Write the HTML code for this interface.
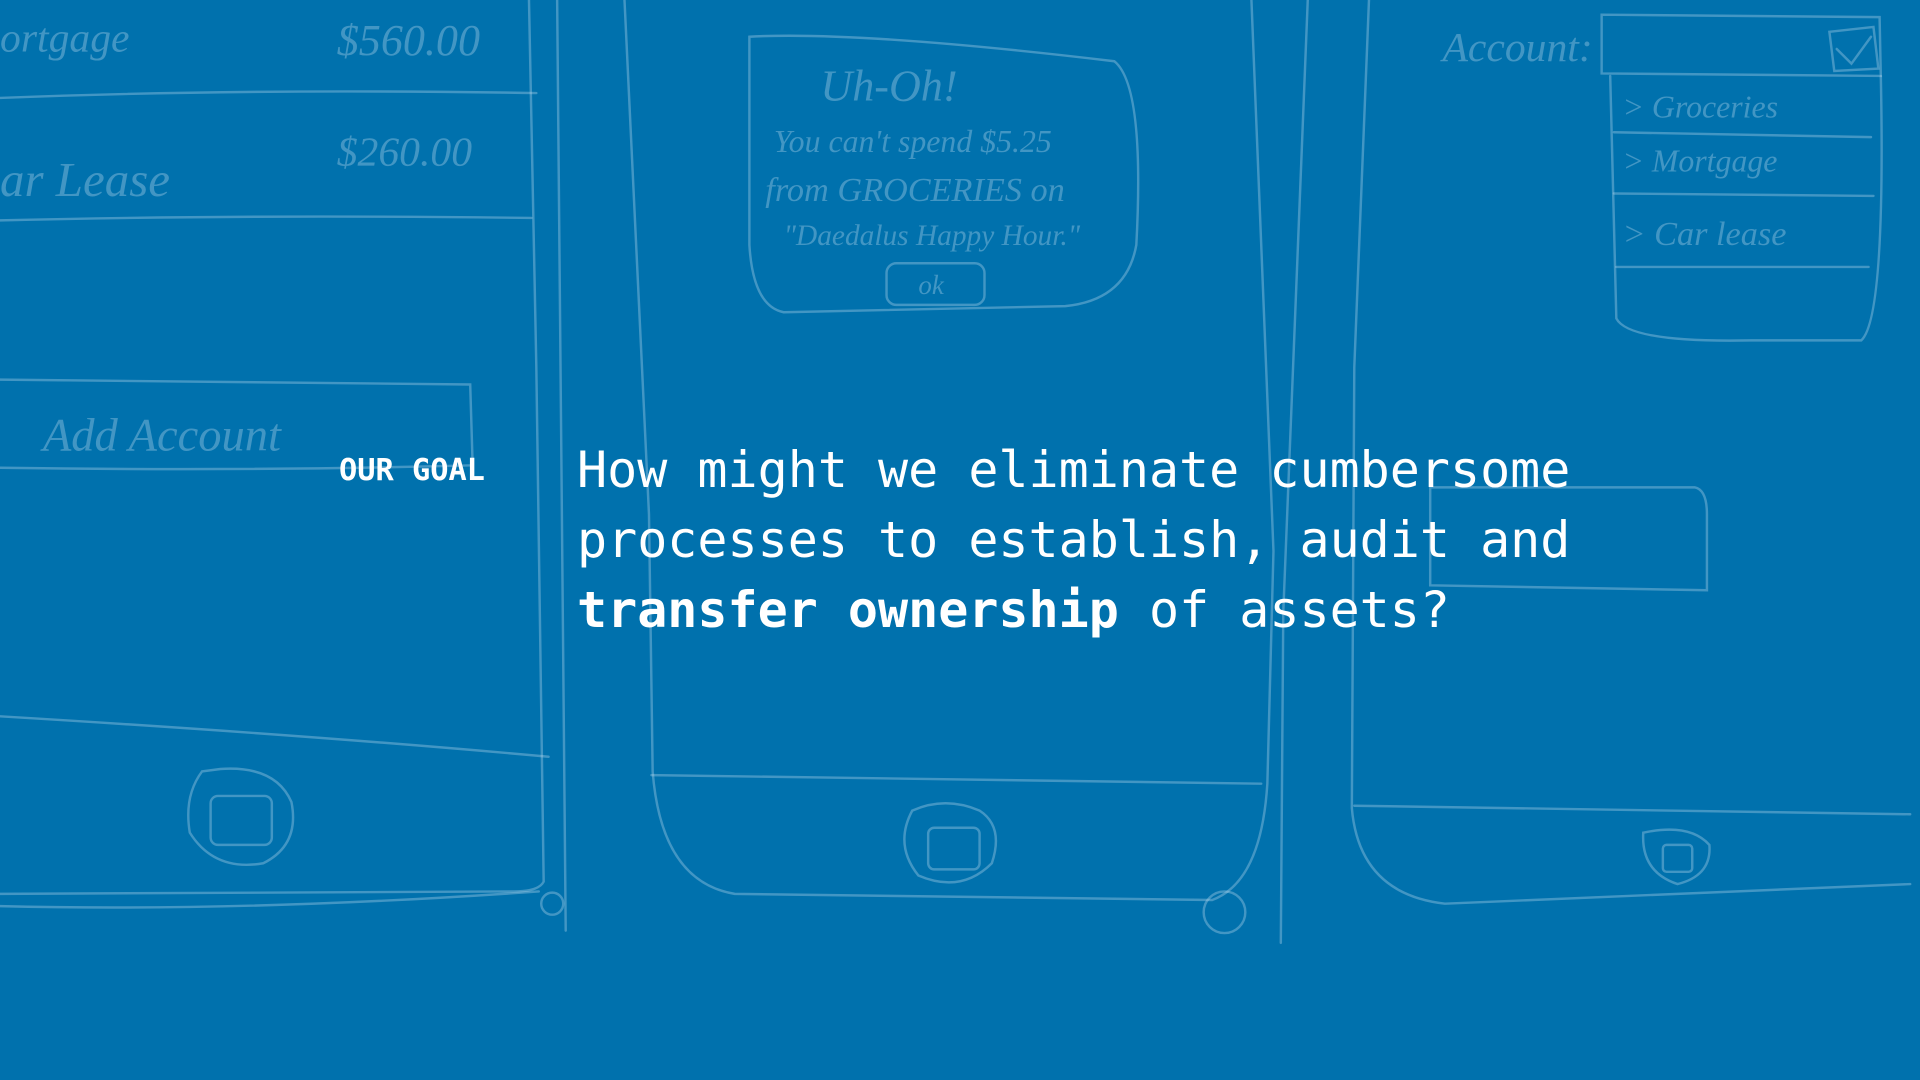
<!DOCTYPE html>
<html><head><meta charset="utf-8"><style>
html,body{margin:0;padding:0;}
body{width:1920px;height:1080px;background:#0071ad;position:relative;overflow:hidden;font-family:"DejaVu Sans Mono","Liberation Mono",monospace;}
svg{position:absolute;left:0;top:0;}
.lbl{position:absolute;left:339px;top:453px;color:#fff;font-weight:bold;font-size:30.3px;}
.goal{position:absolute;left:577px;top:435px;color:#fff;font-size:50px;line-height:70px;white-space:pre;}
</style></head><body>
<svg width="1920" height="1080" viewBox="0 0 1568 882" fill="none" stroke="rgba(190,220,240,0.35)" stroke-width="2" stroke-linecap="round">
<path d="M432 0 L438 300 L444 720 Q440 728 420 728 L0 730"/>
<path d="M0 740 Q200 745 440 728"/>
<path d="M455 0 L462 760"/>
<path d="M0 80 Q200 72 438 76"/><path d="M0 180 Q200 175 434 178"/>
<path d="M0 310 Q200 312 384 314 L386 380 Q200 385 0 382"/>
<path d="M0 585 Q250 600 448 618"/>
<path d="M165 630 Q150 650 155 680 Q175 712 215 705 Q245 690 238 655 Q225 625 180 628 Z"/>
<rect x="172" y="650" width="50" height="40" rx="6"/>
<path d="M510 0 L530 420 L533 630 Q540 720 600 730 L990 735 Q1030 720 1035 640 L1040 450 L1022 0"/>
<path d="M532 633 Q780 636 1030 640"/>
<path d="M1068 0 L1048 500 L1046 770"/>
<path d="M612 30 Q700 25 910 50 Q935 70 928 200 Q920 245 870 250 L640 255 Q615 250 612 200 Z"/>
<rect x="724" y="215" width="80" height="34" rx="8"/>
<path d="M745 662 Q730 690 750 715 Q785 730 810 705 Q820 675 800 662 Q772 650 745 662 Z"/>
<rect x="758" y="676" width="42" height="34" rx="5"/>
<circle cx="1000" cy="745" r="17"/>
<circle cx="451" cy="738" r="9"/>
<path d="M1118 0 L1106 300 L1104 660 Q1110 730 1180 738 L1560 722"/>
<path d="M1106 658 Q1330 662 1560 665"/>
<path d="M1308 12 L1535 14 L1536 62 L1308 60 Z"/>
<path d="M1315 62 L1320 260 Q1330 280 1430 278 L1520 278 Q1540 260 1536 62"/>
<path d="M1318 108 L1528 112"/><path d="M1318 158 L1530 160"/><path d="M1320 218 L1526 218"/>
<path d="M1168 398 L1384 398 Q1394 400 1394 420 L1394 482 L1168 478 Z"/>
<path d="M1342 680 Q1340 712 1370 722 Q1398 715 1396 690 Q1380 672 1342 680 Z"/>
<rect x="1358" y="690" width="24" height="22" rx="3"/>
<path d="M1494 26 L1530 22 L1534 56 L1498 58 Z M1500 40 L1512 52 L1528 30"/>
</svg>
<svg width="1920" height="1080" viewBox="0 0 1568 882" style="font-family:'Liberation Serif',serif;font-style:italic" fill="rgba(190,220,240,0.35)">
<text x="0" y="42" font-size="34">ortgage</text>
<text x="275" y="45" font-size="36">$560.00</text>
<text x="0" y="160" font-size="40">ar Lease</text>
<text x="275" y="135" font-size="34">$260.00</text>
<text x="35" y="368" font-size="38">Add  Account</text>
<text x="670" y="82" font-size="36">Uh-Oh!</text>
<text x="632" y="124" font-size="26">You can't spend $5.25</text>
<text x="625" y="164" font-size="28">from GROCERIES on</text>
<text x="640" y="200" font-size="24">"Daedalus Happy Hour."</text>
<text x="750" y="240" font-size="22">ok</text>
<text x="1178" y="50" font-size="34">Account:</text>
<text x="1325" y="96" font-size="26">&gt; Groceries</text>
<text x="1325" y="140" font-size="26">&gt; Mortgage</text>
<text x="1325" y="200" font-size="28">&gt; Car lease</text>
</svg>
<div class="lbl">OUR GOAL</div>
<div class="goal">How might we eliminate cumbersome
processes to establish, audit and
<b>transfer ownership</b> of assets?</div>
</body></html>
